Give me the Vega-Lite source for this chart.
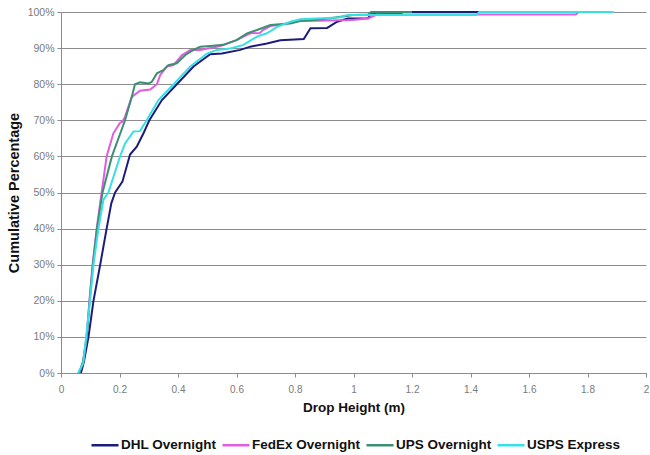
{
  "$schema": "https://vega.github.io/schema/vega-lite/v6.json",
  "autosize": {"type": "none"},
  "width": 585,
  "height": 361,
  "padding": {"left": 61, "top": 12, "right": 4, "bottom": 82},
  "background": "white",
  "config": {
    "view": {"stroke": null},
    "font": "Liberation Sans"
  },
  "data": {
    "values": [
      {"s": "DHL Overnight", "x": 0.068, "y": 0},
      {"s": "DHL Overnight", "x": 0.078, "y": 3},
      {"s": "DHL Overnight", "x": 0.094, "y": 10},
      {"s": "DHL Overnight", "x": 0.111, "y": 20},
      {"s": "DHL Overnight", "x": 0.134, "y": 30},
      {"s": "DHL Overnight", "x": 0.156, "y": 40},
      {"s": "DHL Overnight", "x": 0.172, "y": 47},
      {"s": "DHL Overnight", "x": 0.185, "y": 50},
      {"s": "DHL Overnight", "x": 0.21, "y": 53},
      {"s": "DHL Overnight", "x": 0.236, "y": 60.5},
      {"s": "DHL Overnight", "x": 0.259, "y": 62.7},
      {"s": "DHL Overnight", "x": 0.282, "y": 66.4},
      {"s": "DHL Overnight", "x": 0.302, "y": 70},
      {"s": "DHL Overnight", "x": 0.345, "y": 75.6},
      {"s": "DHL Overnight", "x": 0.396, "y": 80},
      {"s": "DHL Overnight", "x": 0.453, "y": 84.9},
      {"s": "DHL Overnight", "x": 0.51, "y": 88.3},
      {"s": "DHL Overnight", "x": 0.55, "y": 88.5},
      {"s": "DHL Overnight", "x": 0.613, "y": 89.5},
      {"s": "DHL Overnight", "x": 0.647, "y": 90.4},
      {"s": "DHL Overnight", "x": 0.704, "y": 91.3},
      {"s": "DHL Overnight", "x": 0.75, "y": 92.2},
      {"s": "DHL Overnight", "x": 0.83, "y": 92.5},
      {"s": "DHL Overnight", "x": 0.853, "y": 95.5},
      {"s": "DHL Overnight", "x": 0.91, "y": 95.6},
      {"s": "DHL Overnight", "x": 0.944, "y": 97.3},
      {"s": "DHL Overnight", "x": 0.98, "y": 98.2},
      {"s": "DHL Overnight", "x": 1.05, "y": 98.3},
      {"s": "DHL Overnight", "x": 1.06, "y": 99.4},
      {"s": "DHL Overnight", "x": 1.16, "y": 99.5},
      {"s": "DHL Overnight", "x": 1.17, "y": 100},
      {"s": "DHL Overnight", "x": 1.45, "y": 100},

      {"s": "FedEx Overnight", "x": 0.062, "y": 0},
      {"s": "FedEx Overnight", "x": 0.075, "y": 3},
      {"s": "FedEx Overnight", "x": 0.088, "y": 10},
      {"s": "FedEx Overnight", "x": 0.097, "y": 20},
      {"s": "FedEx Overnight", "x": 0.108, "y": 30},
      {"s": "FedEx Overnight", "x": 0.122, "y": 40},
      {"s": "FedEx Overnight", "x": 0.139, "y": 50},
      {"s": "FedEx Overnight", "x": 0.156, "y": 60},
      {"s": "FedEx Overnight", "x": 0.179, "y": 66.4},
      {"s": "FedEx Overnight", "x": 0.202, "y": 69.3},
      {"s": "FedEx Overnight", "x": 0.21, "y": 69.6},
      {"s": "FedEx Overnight", "x": 0.219, "y": 71},
      {"s": "FedEx Overnight", "x": 0.242, "y": 76.5},
      {"s": "FedEx Overnight", "x": 0.27, "y": 78.2},
      {"s": "FedEx Overnight", "x": 0.305, "y": 78.5},
      {"s": "FedEx Overnight", "x": 0.328, "y": 80},
      {"s": "FedEx Overnight", "x": 0.339, "y": 82.5},
      {"s": "FedEx Overnight", "x": 0.362, "y": 84.9},
      {"s": "FedEx Overnight", "x": 0.385, "y": 85.3},
      {"s": "FedEx Overnight", "x": 0.413, "y": 88},
      {"s": "FedEx Overnight", "x": 0.442, "y": 89.5},
      {"s": "FedEx Overnight", "x": 0.476, "y": 89.5},
      {"s": "FedEx Overnight", "x": 0.51, "y": 90},
      {"s": "FedEx Overnight", "x": 0.545, "y": 90.6},
      {"s": "FedEx Overnight", "x": 0.6, "y": 92.2},
      {"s": "FedEx Overnight", "x": 0.647, "y": 94.1},
      {"s": "FedEx Overnight", "x": 0.68, "y": 94.2},
      {"s": "FedEx Overnight", "x": 0.69, "y": 95},
      {"s": "FedEx Overnight", "x": 0.716, "y": 96.1},
      {"s": "FedEx Overnight", "x": 0.76, "y": 96.6},
      {"s": "FedEx Overnight", "x": 0.807, "y": 97.5},
      {"s": "FedEx Overnight", "x": 0.87, "y": 97.6},
      {"s": "FedEx Overnight", "x": 0.995, "y": 97.8},
      {"s": "FedEx Overnight", "x": 1.05, "y": 98.2},
      {"s": "FedEx Overnight", "x": 1.08, "y": 99.3},
      {"s": "FedEx Overnight", "x": 1.76, "y": 99.3},
      {"s": "FedEx Overnight", "x": 1.77, "y": 100},

      {"s": "UPS Overnight", "x": 0.062, "y": 0},
      {"s": "UPS Overnight", "x": 0.075, "y": 3},
      {"s": "UPS Overnight", "x": 0.088, "y": 10},
      {"s": "UPS Overnight", "x": 0.098, "y": 20},
      {"s": "UPS Overnight", "x": 0.109, "y": 30},
      {"s": "UPS Overnight", "x": 0.123, "y": 40},
      {"s": "UPS Overnight", "x": 0.142, "y": 50},
      {"s": "UPS Overnight", "x": 0.174, "y": 60},
      {"s": "UPS Overnight", "x": 0.219, "y": 70},
      {"s": "UPS Overnight", "x": 0.242, "y": 76.5},
      {"s": "UPS Overnight", "x": 0.253, "y": 80},
      {"s": "UPS Overnight", "x": 0.27, "y": 80.5},
      {"s": "UPS Overnight", "x": 0.299, "y": 80.2},
      {"s": "UPS Overnight", "x": 0.31, "y": 80.6},
      {"s": "UPS Overnight", "x": 0.328, "y": 83},
      {"s": "UPS Overnight", "x": 0.35, "y": 83.9},
      {"s": "UPS Overnight", "x": 0.367, "y": 85.3},
      {"s": "UPS Overnight", "x": 0.396, "y": 85.8},
      {"s": "UPS Overnight", "x": 0.425, "y": 88.1},
      {"s": "UPS Overnight", "x": 0.453, "y": 89.5},
      {"s": "UPS Overnight", "x": 0.476, "y": 90.4},
      {"s": "UPS Overnight", "x": 0.51, "y": 90.6},
      {"s": "UPS Overnight", "x": 0.555, "y": 90.9},
      {"s": "UPS Overnight", "x": 0.6, "y": 92.2},
      {"s": "UPS Overnight", "x": 0.636, "y": 94.1},
      {"s": "UPS Overnight", "x": 0.67, "y": 95},
      {"s": "UPS Overnight", "x": 0.716, "y": 96.4},
      {"s": "UPS Overnight", "x": 0.784, "y": 96.8},
      {"s": "UPS Overnight", "x": 0.818, "y": 97.5},
      {"s": "UPS Overnight", "x": 0.864, "y": 97.8},
      {"s": "UPS Overnight", "x": 0.92, "y": 98.3},
      {"s": "UPS Overnight", "x": 1.0, "y": 99.2},
      {"s": "UPS Overnight", "x": 1.05, "y": 99.3},
      {"s": "UPS Overnight", "x": 1.06, "y": 100},
      {"s": "UPS Overnight", "x": 1.2, "y": 100},

      {"s": "USPS Express", "x": 0.058, "y": 0},
      {"s": "USPS Express", "x": 0.076, "y": 2.7},
      {"s": "USPS Express", "x": 0.086, "y": 10},
      {"s": "USPS Express", "x": 0.099, "y": 20},
      {"s": "USPS Express", "x": 0.111, "y": 30},
      {"s": "USPS Express", "x": 0.128, "y": 40},
      {"s": "USPS Express", "x": 0.145, "y": 48},
      {"s": "USPS Express", "x": 0.162, "y": 50},
      {"s": "USPS Express", "x": 0.202, "y": 60},
      {"s": "USPS Express", "x": 0.219, "y": 63.6},
      {"s": "USPS Express", "x": 0.248, "y": 66.9},
      {"s": "USPS Express", "x": 0.27, "y": 67},
      {"s": "USPS Express", "x": 0.293, "y": 70},
      {"s": "USPS Express", "x": 0.333, "y": 75.6},
      {"s": "USPS Express", "x": 0.385, "y": 80},
      {"s": "USPS Express", "x": 0.442, "y": 84.9},
      {"s": "USPS Express", "x": 0.499, "y": 88.5},
      {"s": "USPS Express", "x": 0.533, "y": 89.5},
      {"s": "USPS Express", "x": 0.579, "y": 89.9},
      {"s": "USPS Express", "x": 0.624, "y": 90.9},
      {"s": "USPS Express", "x": 0.67, "y": 93.2},
      {"s": "USPS Express", "x": 0.704, "y": 94.1},
      {"s": "USPS Express", "x": 0.739, "y": 95.9},
      {"s": "USPS Express", "x": 0.784, "y": 97.3},
      {"s": "USPS Express", "x": 0.818, "y": 98},
      {"s": "USPS Express", "x": 0.95, "y": 98.5},
      {"s": "USPS Express", "x": 0.98, "y": 99.2},
      {"s": "USPS Express", "x": 1.42, "y": 99.2},
      {"s": "USPS Express", "x": 1.43, "y": 100},
      {"s": "USPS Express", "x": 1.89, "y": 100}
    ]
  },
  "mark": {"type": "line", "strokeWidth": 2, "interpolate": "linear"},
  "encoding": {
    "x": {
      "field": "x",
      "type": "quantitative",
      "scale": {"domain": [0, 2], "nice": false, "zero": false},
      "axis": {
        "title": "Drop Height (m)",
        "values": [0, 0.2, 0.4, 0.6, 0.8, 1, 1.2, 1.4, 1.6, 1.8, 2],
        "format": "~g",
        "grid": false,
        "domainColor": "#8c8c8c",
        "domainWidth": 1,
        "tickColor": "#8c8c8c",
        "tickSize": 4,
        "labelColor": "#7a7a7a",
        "labelFontSize": 10,
        "labelPadding": 7,
        "labelFlush": false,
        "titleFont": "Liberation Sans",
        "titleFontWeight": "bold",
        "titleFontSize": 13.5,
        "titleColor": "#111111",
        "titlePadding": 6
      }
    },
    "y": {
      "field": "y",
      "type": "quantitative",
      "scale": {"domain": [0, 100], "nice": false},
      "axis": {
        "title": "Cumulative Percentage",
        "values": [0, 10, 20, 30, 40, 50, 60, 70, 80, 90, 100],
        "labelExpr": "datum.value + '%'",
        "grid": true,
        "gridColor": "#8c8c8c",
        "gridWidth": 1,
        "gridOpacity": 1,
        "domainColor": "#8c8c8c",
        "tickColor": "#8c8c8c",
        "tickSize": 4,
        "labelColor": "#7a7a7a",
        "labelFontSize": 10.5,
        "labelPadding": 3,
        "titleFont": "Liberation Sans",
        "titleFontWeight": "bold",
        "titleFontSize": 14.5,
        "titleColor": "#111111",
        "titlePadding": 6
      }
    },
    "color": {
      "field": "s",
      "type": "nominal",
      "scale": {
        "domain": ["DHL Overnight", "FedEx Overnight", "UPS Overnight", "USPS Express"],
        "range": ["#1c1c7c", "#e05ce0", "#3d8f72", "#36e0e6"]
      },
      "legend": {
        "title": null,
        "orient": "none",
        "direction": "horizontal",
        "legendX": 29,
        "legendY": 418,
        "symbolType": "stroke",
        "symbolSize": 729,
        "symbolStrokeWidth": 2.5,
        "labelFont": "Liberation Sans",
        "labelFontWeight": "bold",
        "labelFontSize": 13.5,
        "labelColor": "#111111",
        "labelOffset": 1,
        "columnPadding": 0
      }
    }
  }
}
